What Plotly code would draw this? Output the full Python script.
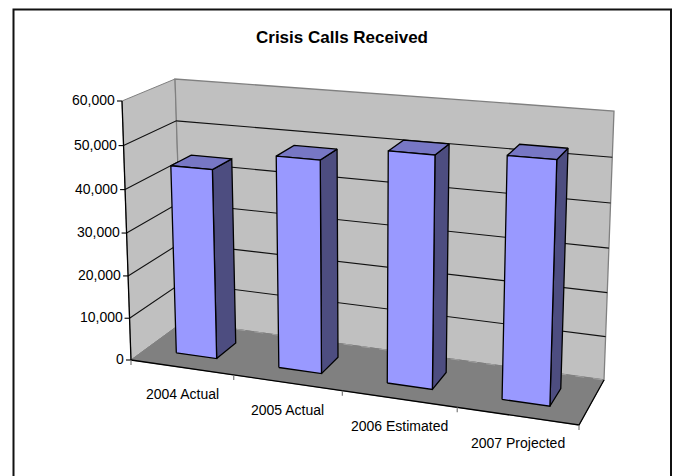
import plotly.graph_objects as go

title = "Crisis Calls Received"
categories = ["2004 Actual", "2005 Actual", "2006 Estimated", "2007 Projected"]
calls = [44300, 48700, 52000, 53200]
value_ticks = [0, 10000, 20000, 30000, 40000, 50000, 60000]
axis_max = 60000

# Screen position of the eight corners of the 3D plot box (left/right, front/back, bottom/top)
C = {
    "LFB": (131, 360), "RFB": (579, 425), "LBB": (183, 322), "RBB": (604, 380),
    "LFT": (122, 101), "RFT": (588, 138), "LBT": (175, 79), "RBT": (614, 111),
}
PERSP_U = 1.12
PERSP_W = 1.04
GAP = 0.1 / 0.25      # bar width as share of category slot
DEPTH = (0.3, 0.7)    # bar front and back as share of the floor depth


def persp(t, r):
    return t / (t + (1 - t) * r)


def project(cat_pos, depth, value):
    """cat_pos in 0..n categories, depth in 0..1, value in data units -> page pixels"""
    u = persp(cat_pos / len(categories), PERSP_U)
    v = depth
    w = persp(value / axis_max, PERSP_W)
    out = []
    for k in (0, 1):
        bot = (1 - u) * ((1 - v) * C["LFB"][k] + v * C["LBB"][k]) + u * ((1 - v) * C["RFB"][k] + v * C["RBB"][k])
        top = (1 - u) * ((1 - v) * C["LFT"][k] + v * C["LBT"][k]) + u * ((1 - v) * C["RFT"][k] + v * C["RBT"][k])
        out.append((1 - w) * bot + w * top)
    return tuple(out)


fig = go.Figure()


def poly(points, fill, line="black", width=1.3):
    xs = [p[0] for p in points] + [points[0][0]]
    ys = [p[1] for p in points] + [points[0][1]]
    fig.add_trace(go.Scatter(x=xs, y=ys, mode="lines", fill="toself", fillcolor=fill,
                             line=dict(color=line, width=width), hoverinfo="skip", showlegend=False))


def seg(points, color="black", width=1.2, dash="solid"):
    fig.add_trace(go.Scatter(x=[p[0] for p in points], y=[p[1] for p in points], mode="lines",
                             line=dict(color=color, width=width, dash=dash), hoverinfo="skip", showlegend=False))


n = len(categories)
WALL = "#C0C0C0"
FLOOR = "#808080"
EDGE = "#808080"

# walls and floor
poly([project(0, 0, 0), project(0, 1, 0), project(0, 1, axis_max), project(0, 0, axis_max)], WALL, EDGE, 1)
poly([project(0, 1, 0), project(n, 1, 0), project(n, 1, axis_max), project(0, 1, axis_max)], WALL, EDGE, 1.3)
poly([project(0, 0, 0), project(n, 0, 0), project(n, 1, 0), project(0, 1, 0)], FLOOR, FLOOR, 1)

# gridlines
for val in value_ticks[1:-1]:
    seg([project(0, 0, val), project(0, 1, val), project(n, 1, val)], "#111111", 1.1)
seg([project(0, 1, 0), project(n, 1, 0)], "#A0A0A0", 1, "dash")

# axis lines and ticks
seg([project(0, 0, 0), project(0, 0, axis_max)], "black", 1.3)
seg([project(0, 0, 0), project(n, 0, 0), project(n, 1, 0)], "black", 1.3)
for val in value_ticks:
    x, y = project(0, 0, val)
    seg([(x, y), (x - 5, y)], "black", 1.1)
for i in range(n + 1):
    x, y = project(i, 0, 0)
    seg([(x, y), (x, y + 5)], "#707070", 1.1)

# bars
for i, val in enumerate(calls):
    a, b = i + 0.5 - GAP / 2, i + 0.5 + GAP / 2
    f, k = DEPTH
    poly([project(b, f, 0), project(b, k, 0), project(b, k, val), project(b, f, val)], "#4D4D80")
    poly([project(a, f, val), project(b, f, val), project(b, k, val), project(a, k, val)], "#7777C4")
    poly([project(a, f, 0), project(b, f, 0), project(b, f, val), project(a, f, val)], "#9999FF")

FONT = "Liberation Sans, Arial, sans-serif"
ann = []
ann.append(dict(x=342, y=37, text="<b>%s</b>" % title, showarrow=False,
                font=dict(family=FONT, size=17, color="black"), xanchor="center", yanchor="middle"))
for val in value_ticks:
    x, y = project(0, 0, val)
    ann.append(dict(x=x - 5, y=y - 1, text=f"{val:,}", showarrow=False,
                    font=dict(family=FONT, size=14, color="black"), xanchor="right", yanchor="middle"))
for i, c in enumerate(categories):
    x, y = project(i + 0.5, 0, 0)
    ann.append(dict(x=x + 0.5, y=y + 27, text=c, showarrow=False,
                    font=dict(family=FONT, size=14, color="black"), xanchor="center", yanchor="middle"))

fig.update_layout(
    width=675, height=476, margin=dict(l=0, r=0, t=0, b=0),
    paper_bgcolor="white", plot_bgcolor="white", showlegend=False, annotations=ann,
    xaxis=dict(range=[0, 675], visible=False, fixedrange=True),
    yaxis=dict(range=[476, 0], visible=False, fixedrange=True),
    shapes=[dict(type="rect", x0=13.5, y0=9.5, x1=671, y1=480, line=dict(color="#111111", width=2))],
)
fig.write_html("out.html", config={"displayModeBar": False},
               post_script="document.body.style.margin='0';document.body.style.overflow='hidden';")
